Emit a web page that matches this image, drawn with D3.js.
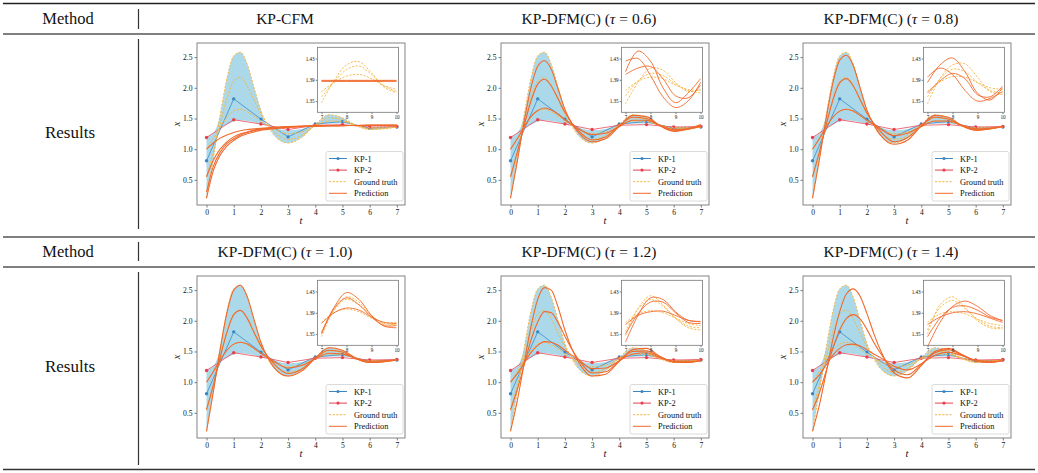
<!DOCTYPE html>
<html>
<head>
<meta charset="utf-8">
<script src="https://cdn.jsdelivr.net/npm/d3@7"></script>
<style>
  body { margin: 0; background: #fff; }
  svg, svg text { font-family: "Liberation Serif", "Times New Roman", Times, "DejaVu Serif", serif; }
  svg text { fill: #111; }
</style>
</head>
<body>
<div id="chart"></div>
<script>
// time grids
const tMain = [0, 0.25, 0.5, 0.75, 1, 1.25, 1.5, 1.75, 2, 2.25, 2.5, 3, 3.5, 4, 4.5, 5, 5.5, 6, 6.5, 7]
const tKP = [0, 1, 2, 3, 4, 5, 6, 7]
const tInset = [7, 7.5, 8, 8.5, 9, 9.5, 10]

// key points
const kp1 = [0.81, 1.82, 1.49, 1.20, 1.41, 1.45, 1.34, 1.36]
const kp2 = [1.19, 1.48, 1.41, 1.32, 1.39, 1.40, 1.36, 1.37]

// ground truth (same in every panel)
const gtLow = [0.20, 0.85, 1.55, 2.15, 2.52, 2.58, 2.38, 2.00, 1.63, 1.38, 1.22, 1.10, 1.19, 1.40, 1.56, 1.51, 1.39, 1.32, 1.33, 1.36]
const gtMid = [0.55, 0.95, 1.40, 1.82, 2.11, 2.17, 2.03, 1.80, 1.58, 1.41, 1.28, 1.16, 1.22, 1.39, 1.51, 1.48, 1.38, 1.33, 1.34, 1.36]
const gtHigh = [1.00, 1.17, 1.36, 1.52, 1.62, 1.65, 1.61, 1.54, 1.46, 1.39, 1.33, 1.25, 1.28, 1.38, 1.46, 1.45, 1.39, 1.35, 1.35, 1.36]
const bandEdge = [1.20, 1.26, 1.33, 1.40, 1.45, 1.47, 1.46, 1.44, 1.41, 1.38, 1.35, 1.31, 1.33, 1.38, 1.42, 1.42, 1.39, 1.37, 1.36, 1.36]

// predictions, main range
const predCFM = [
  [1.00, 1.10, 1.18, 1.23, 1.27, 1.30, 1.32, 1.33, 1.34, 1.35, 1.36, 1.37, 1.375, 1.38, 1.383, 1.385, 1.386, 1.387, 1.388, 1.388],
  [0.55, 0.82, 1.00, 1.12, 1.20, 1.25, 1.28, 1.31, 1.33, 1.34, 1.35, 1.365, 1.373, 1.378, 1.382, 1.385, 1.386, 1.387, 1.388, 1.388],
  [0.30, 0.72, 0.95, 1.09, 1.17, 1.23, 1.27, 1.30, 1.32, 1.33, 1.345, 1.36, 1.37, 1.377, 1.381, 1.384, 1.386, 1.387, 1.388, 1.388],
  [0.20, 0.65, 0.90, 1.05, 1.14, 1.21, 1.25, 1.28, 1.31, 1.32, 1.335, 1.355, 1.368, 1.376, 1.381, 1.384, 1.386, 1.387, 1.388, 1.388]
]
const pred06 = [
  [0.20, 0.80, 1.45, 2.00, 2.35, 2.44, 2.30, 1.98, 1.65, 1.42, 1.27, 1.12, 1.17, 1.37, 1.55, 1.53, 1.38, 1.29, 1.33, 1.40],
  [0.55, 0.95, 1.38, 1.78, 2.06, 2.14, 2.03, 1.82, 1.60, 1.43, 1.30, 1.15, 1.20, 1.38, 1.52, 1.50, 1.38, 1.30, 1.32, 1.38],
  [1.00, 1.17, 1.36, 1.53, 1.63, 1.67, 1.64, 1.57, 1.48, 1.40, 1.33, 1.24, 1.26, 1.37, 1.47, 1.47, 1.39, 1.32, 1.33, 1.37]
]
const pred08 = [
  [0.20, 0.82, 1.50, 2.08, 2.45, 2.53, 2.36, 2.00, 1.64, 1.40, 1.23, 1.08, 1.15, 1.38, 1.55, 1.52, 1.38, 1.31, 1.33, 1.37],
  [0.55, 0.95, 1.39, 1.80, 2.08, 2.15, 2.03, 1.81, 1.59, 1.42, 1.29, 1.12, 1.19, 1.38, 1.52, 1.49, 1.38, 1.31, 1.33, 1.37],
  [1.00, 1.17, 1.36, 1.52, 1.62, 1.65, 1.62, 1.55, 1.47, 1.40, 1.33, 1.22, 1.26, 1.37, 1.46, 1.46, 1.39, 1.33, 1.34, 1.37]
]
const pred10 = [
  [0.20, 0.84, 1.53, 2.13, 2.50, 2.58, 2.39, 2.02, 1.65, 1.40, 1.23, 1.10, 1.18, 1.39, 1.56, 1.52, 1.39, 1.32, 1.33, 1.36],
  [0.55, 0.95, 1.40, 1.81, 2.10, 2.17, 2.04, 1.81, 1.59, 1.42, 1.29, 1.14, 1.21, 1.39, 1.52, 1.49, 1.38, 1.32, 1.34, 1.36],
  [1.00, 1.17, 1.36, 1.52, 1.62, 1.65, 1.62, 1.55, 1.47, 1.40, 1.33, 1.23, 1.27, 1.38, 1.47, 1.46, 1.39, 1.34, 1.35, 1.36]
]
const pred12 = [
  [0.20, 0.70, 1.30, 1.90, 2.35, 2.54, 2.50, 2.22, 1.85, 1.55, 1.33, 1.10, 1.13, 1.34, 1.53, 1.55, 1.42, 1.33, 1.32, 1.35],
  [0.55, 0.88, 1.28, 1.68, 1.98, 2.15, 2.13, 1.97, 1.75, 1.54, 1.37, 1.15, 1.17, 1.35, 1.50, 1.51, 1.41, 1.33, 1.33, 1.35],
  [1.00, 1.14, 1.31, 1.48, 1.60, 1.66, 1.65, 1.60, 1.52, 1.44, 1.37, 1.22, 1.23, 1.35, 1.46, 1.48, 1.40, 1.34, 1.34, 1.35]
]
const pred14 = [
  [0.20, 0.62, 1.15, 1.70, 2.15, 2.44, 2.52, 2.40, 2.12, 1.80, 1.52, 1.15, 1.07, 1.27, 1.50, 1.55, 1.45, 1.35, 1.32, 1.35],
  [0.55, 0.82, 1.18, 1.55, 1.85, 2.04, 2.10, 2.03, 1.86, 1.65, 1.47, 1.20, 1.12, 1.29, 1.48, 1.53, 1.44, 1.35, 1.33, 1.35],
  [1.00, 1.12, 1.28, 1.44, 1.55, 1.61, 1.62, 1.59, 1.53, 1.46, 1.40, 1.26, 1.20, 1.30, 1.44, 1.49, 1.43, 1.36, 1.34, 1.35]
]

// inset (t = 7..10) ground truth and predictions
const insetGT_CFM = [[1.347, 1.388, 1.418, 1.424, 1.403, 1.376, 1.366], [1.358, 1.386, 1.409, 1.416, 1.400, 1.379, 1.368], [1.368, 1.385, 1.397, 1.400, 1.392, 1.379, 1.372]]
const insetPred_CFM = [[1.388, 1.388, 1.388, 1.388, 1.388, 1.388, 1.388], [1.387, 1.387, 1.387, 1.387, 1.387, 1.387, 1.387], [1.389, 1.389, 1.389, 1.389, 1.389, 1.389, 1.389]]
const insetGT_06 = [[1.345, 1.385, 1.412, 1.408, 1.385, 1.368, 1.372], [1.360, 1.388, 1.402, 1.398, 1.382, 1.370, 1.365], [1.370, 1.387, 1.395, 1.392, 1.380, 1.372, 1.370]]
const insetPred_06 = [[1.405, 1.444, 1.425, 1.375, 1.347, 1.365, 1.392], [1.425, 1.430, 1.398, 1.358, 1.338, 1.350, 1.385], [1.400, 1.412, 1.415, 1.392, 1.360, 1.356, 1.380]]
const insetGT_08 = [[1.345, 1.392, 1.418, 1.420, 1.395, 1.368, 1.362], [1.358, 1.392, 1.410, 1.405, 1.385, 1.370, 1.365], [1.368, 1.386, 1.396, 1.395, 1.385, 1.375, 1.372]]
const insetPred_08 = [[1.385, 1.418, 1.431, 1.405, 1.365, 1.352, 1.375], [1.395, 1.412, 1.400, 1.370, 1.350, 1.355, 1.368], [1.365, 1.388, 1.402, 1.392, 1.362, 1.358, 1.378]]
const insetGT_10 = [[1.345, 1.395, 1.420, 1.410, 1.385, 1.368, 1.368], [1.355, 1.395, 1.415, 1.405, 1.385, 1.370, 1.368], [1.372, 1.390, 1.397, 1.392, 1.380, 1.372, 1.372]]
const insetPred_10 = [[1.350, 1.400, 1.428, 1.415, 1.385, 1.365, 1.362], [1.352, 1.398, 1.418, 1.405, 1.382, 1.366, 1.366], [1.370, 1.390, 1.399, 1.395, 1.382, 1.372, 1.370]]
const insetGT_12 = [[1.347, 1.398, 1.422, 1.405, 1.380, 1.362, 1.358], [1.355, 1.397, 1.415, 1.402, 1.380, 1.365, 1.362], [1.372, 1.388, 1.394, 1.390, 1.380, 1.370, 1.366]]
const insetPred_12 = [[1.335, 1.385, 1.418, 1.415, 1.392, 1.376, 1.374], [1.350, 1.388, 1.410, 1.410, 1.390, 1.372, 1.370], [1.368, 1.385, 1.392, 1.393, 1.385, 1.376, 1.373]]
const insetGT_14 = [[1.350, 1.405, 1.420, 1.400, 1.375, 1.362, 1.360], [1.358, 1.400, 1.413, 1.398, 1.378, 1.365, 1.362], [1.372, 1.388, 1.392, 1.388, 1.378, 1.370, 1.366]]
const insetPred_14 = [[1.326, 1.372, 1.402, 1.412, 1.402, 1.385, 1.375], [1.345, 1.380, 1.400, 1.403, 1.395, 1.382, 1.376], [1.368, 1.382, 1.390, 1.392, 1.388, 1.380, 1.372]]

// table text and ticks
const tauValues = [null, "0.6", "0.8", "1.0", "1.2", "1.4"]
const xTicks = [0, 1, 2, 3, 4, 5, 6, 7]
const yTicks = [0.5, 1.0, 1.5, 2.0, 2.5]
const insetXTicks = [7, 8, 9, 10]
const insetYTicks = [1.35, 1.39, 1.43]
const legendLabels = ["KP-1", "KP-2", "Ground truth", "Prediction"]

const panels = [
  { pred: predCFM, iGT: insetGT_CFM, iPred: insetPred_CFM },
  { pred: pred06, iGT: insetGT_06, iPred: insetPred_06 },
  { pred: pred08, iGT: insetGT_08, iPred: insetPred_08 },
  { pred: pred10, iGT: insetGT_10, iPred: insetPred_10 },
  { pred: pred12, iGT: insetGT_12, iPred: insetPred_12 },
  { pred: pred14, iGT: insetGT_14, iPred: insetPred_14 }
].map((p, i) => Object.assign(p, { tau: tauValues[i] }))

const serif = '"Liberation Serif", "Times New Roman", Times, serif'
const kp1Color = "#3a86c4"
const kp2Color = "#e8404f"
const gtColor = "#f5b547"
const predColor = "#f0692c"
const bandColor = "#acd9ea"

const width = 1038, height = 473
const W = 208, H = 162
const colLefts = [197, 501, 803]
const rowTops = [43, 276]

const svg = d3.select("#chart").append("svg")
  .attr("width", width).attr("height", height)
  .attr("font-family", serif)

// ---- table frame ----
const rule = (y, w, c) => svg.append("line").attr("x1", 3).attr("x2", 1035)
  .attr("y1", y).attr("y2", y).attr("stroke", c).attr("stroke-width", w)
rule(3.5, 1.3, "#222")
rule(34, 1.3, "#555")
rule(237, 1.3, "#555")
rule(267, 1.3, "#555")
rule(469.5, 1.6, "#333")

;[[9, 29], [39, 229], [242, 261], [272, 465]].forEach(([a, b]) => {
  svg.append("line").attr("x1", 138.5).attr("x2", 138.5).attr("y1", a).attr("y2", b)
    .attr("stroke", "#333").attr("stroke-width", 1.2)
})

;[24, 257].forEach(y => {
  svg.append("text").attr("x", 68).attr("y", y).attr("text-anchor", "middle")
    .attr("font-size", 16.5).text("Method")
})
;[138, 372].forEach(y => {
  svg.append("text").attr("x", 70).attr("y", y).attr("text-anchor", "middle")
    .attr("font-size", 17).text("Results")
})

// ---- panels ----
panels.forEach((p, i) => {
  const col = i % 3, row = Math.floor(i / 3)
  const left = colLefts[col], top = rowTops[row]
  const headY = row === 0 ? 24 : 257

  const head = svg.append("text").attr("x", left + 88).attr("y", headY)
    .attr("text-anchor", "middle").attr("font-size", 15.5)
  if (p.tau === null) {
    head.text("KP-CFM")
  } else {
    head.append("tspan").text("KP-DFM(C) (")
    head.append("tspan").attr("font-style", "italic").text("\u03C4")
    head.append("tspan").text(" = " + p.tau + ")")
  }

  drawPanel(p, left, top, i)
})

function styleAxis(a, size) {
  a.attr("font-family", serif)
  a.select(".domain").remove()
  a.selectAll("line").attr("stroke", "#444").attr("stroke-width", 0.7)
  a.selectAll("text").attr("font-size", size).attr("fill", "#222")
}

function drawPanel(p, left, top, idx) {
  const g = svg.append("g").attr("transform", "translate(" + left + "," + top + ")")

  const x = d3.scaleLinear().domain([-0.35, 7.3]).range([0, W])
  const y = d3.scaleLinear().domain([0.09, 2.73]).range([H, 0])

  g.append("clipPath").attr("id", "clip" + idx)
    .append("rect").attr("width", W).attr("height", H)
  const plot = g.append("g").attr("clip-path", "url(#clip" + idx + ")")

  // band of trajectories
  const band = d3.area()
    .x((d, i) => x(tMain[i]))
    .y0((d, i) => y(Math.min(gtLow[i], bandEdge[i])))
    .y1((d, i) => y(Math.max(gtLow[i], bandEdge[i])))
    .curve(d3.curveMonotoneX)
  plot.append("path").datum(tMain).attr("d", band).attr("fill", bandColor)

  const line = d3.line().x((d, i) => x(tMain[i])).y(d => y(d)).curve(d3.curveMonotoneX)
  const kpLine = d3.line().x((d, i) => x(tKP[i])).y(d => y(d))

  // key point series
  ;[[kp1, kp1Color], [kp2, kp2Color]].forEach(([s, c]) => {
    plot.append("path").datum(s).attr("d", kpLine)
      .attr("fill", "none").attr("stroke", c).attr("stroke-width", 0.9).attr("opacity", 0.85)
    plot.selectAll(null).data(s).enter().append("circle")
      .attr("cx", (d, i) => x(tKP[i])).attr("cy", d => y(d)).attr("r", 1.7).attr("fill", c)
  })

  // ground truth
  ;[gtLow, gtMid, gtHigh].forEach(s => {
    plot.append("path").datum(s).attr("d", line).attr("fill", "none")
      .attr("stroke", gtColor).attr("stroke-width", 1).attr("stroke-dasharray", "2.2,1.4")
  })

  // predictions
  p.pred.forEach(s => {
    plot.append("path").datum(s).attr("d", line).attr("fill", "none")
      .attr("stroke", predColor).attr("stroke-width", 1.1)
  })

  // axes
  const xAxis = g.append("g").attr("transform", "translate(0," + H + ")")
    .call(d3.axisBottom(x).tickValues(xTicks).tickFormat(d3.format("d")).tickSize(2.5).tickPadding(2))
  const yAxis = g.append("g")
    .call(d3.axisLeft(y).tickValues(yTicks).tickFormat(d3.format(".1f")).tickSize(2.5).tickPadding(2))
  styleAxis(xAxis, 7.6)
  styleAxis(yAxis, 7.6)

  g.append("rect").attr("width", W).attr("height", H)
    .attr("fill", "none").attr("stroke", "#777").attr("stroke-width", 0.9)

  g.append("text").attr("x", W / 2).attr("y", H + 19).attr("text-anchor", "middle")
    .attr("font-size", 10.5).attr("font-style", "italic").text("t")
  g.append("text").attr("transform", "translate(-17," + (H / 2) + ") rotate(-90)")
    .attr("text-anchor", "middle").attr("font-size", 10.5).attr("font-style", "italic").text("x")

  // legend
  const lg = g.append("g").attr("transform", "translate(129,108.5)")
  lg.append("rect").attr("width", 77).attr("height", 49.5).attr("rx", 2)
    .attr("fill", "#fff").attr("fill-opacity", 0.85).attr("stroke", "#d0d0d0").attr("stroke-width", 0.8)
  const styles = [
    { c: kp1Color, dash: null, m: true },
    { c: kp2Color, dash: null, m: true },
    { c: gtColor, dash: "2.2,1.4", m: false },
    { c: predColor, dash: null, m: false }
  ]
  legendLabels.forEach((lab, k) => {
    const yy = 7 + k * 11.6
    lg.append("line").attr("x1", 3).attr("x2", 21).attr("y1", yy).attr("y2", yy)
      .attr("stroke", styles[k].c).attr("stroke-width", 1).attr("stroke-dasharray", styles[k].dash)
    if (styles[k].m) lg.append("circle").attr("cx", 12).attr("cy", yy).attr("r", 1.6).attr("fill", styles[k].c)
    lg.append("text").attr("x", 28).attr("y", yy + 3).attr("font-size", 8.4).text(lab)
  })

  // inset
  const iw = 81, ih = 65
  const ig = g.append("g").attr("transform", "translate(120.5,4.3)")
  const ix = d3.scaleLinear().domain([6.84, 10.08]).range([0, iw])
  const iy = d3.scaleLinear().domain([1.329, 1.451]).range([ih, 0])
  ig.append("rect").attr("width", iw).attr("height", ih).attr("fill", "#fff")
  ig.append("clipPath").attr("id", "iclip" + idx)
    .append("rect").attr("width", iw).attr("height", ih)
  const iplot = ig.append("g").attr("clip-path", "url(#iclip" + idx + ")")
  const iline = d3.line().x((d, i) => ix(tInset[i])).y(d => iy(d)).curve(d3.curveCatmullRom.alpha(0.5))
  p.iGT.forEach(s => {
    iplot.append("path").datum(s).attr("d", iline).attr("fill", "none")
      .attr("stroke", gtColor).attr("stroke-width", 0.9).attr("stroke-dasharray", "2.2,1.4")
  })
  p.iPred.forEach(s => {
    iplot.append("path").datum(s).attr("d", iline).attr("fill", "none")
      .attr("stroke", predColor).attr("stroke-width", 0.9)
  })
  const ixAxis = ig.append("g").attr("transform", "translate(0," + ih + ")")
    .call(d3.axisBottom(ix).tickValues(insetXTicks).tickFormat(d3.format("d")).tickSize(1.8).tickPadding(1))
  const iyAxis = ig.append("g")
    .call(d3.axisLeft(iy).tickValues(insetYTicks).tickFormat(d3.format(".2f")).tickSize(1.8).tickPadding(1))
  styleAxis(ixAxis, 5.2)
  styleAxis(iyAxis, 5.2)
  ig.append("rect").attr("width", iw).attr("height", ih)
    .attr("fill", "none").attr("stroke", "#777").attr("stroke-width", 0.8)
}
</script>
</body>
</html>
